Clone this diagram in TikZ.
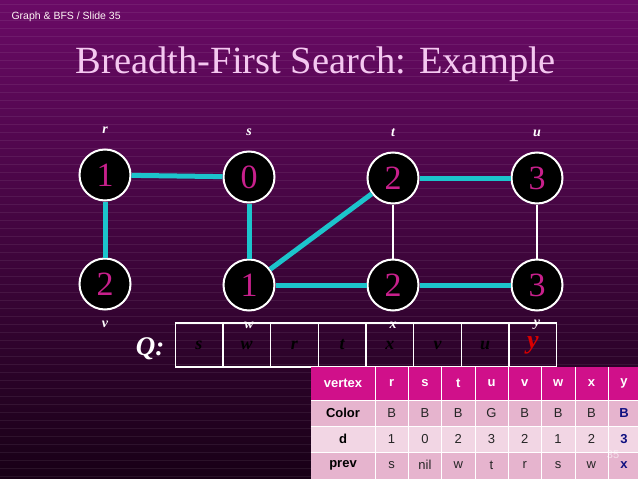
\documentclass[tikz,border=0pt]{standalone}
\usepackage{fontspec}
\setmainfont{Liberation Serif}
\setsansfont{Liberation Sans}
\usetikzlibrary{calc}
\definecolor{bgtop}{HTML}{6A0A66}
\definecolor{bgbot}{HTML}{180016}
\definecolor{edgecol}{HTML}{1CC4CC}
\definecolor{numcol}{HTML}{C8208C}
\definecolor{titlecol}{HTML}{F4C8F0}
\definecolor{headcol}{HTML}{D0108A}
\definecolor{rowa}{HTML}{E6B4CE}
\definecolor{rowb}{HTML}{F2D6E4}
\definecolor{ycol}{HTML}{101080}
\tikzset{
    vertex/.style={circle, draw=white, line width=2pt, fill=black, minimum size=51pt, inner sep=0pt,
        text=numcol, font=\fontsize{34}{34}\selectfont},
    tree/.style={edgecol, line width=5pt},
    plain/.style={white, line width=1.3pt},
    vlabel/.style={white, font=\itshape\bfseries\fontsize{14}{14}\selectfont},
    qcell/.style={draw=white, line width=1.3pt, minimum width=47.7pt, minimum height=44pt, inner sep=0pt,
        font=\itshape\bfseries\fontsize{18}{18}\selectfont, text=black},
    tcell/.style={font=\sffamily\fontsize{13}{13}\selectfont, text=black!85},
    thead/.style={font=\sffamily\bfseries\fontsize{13}{13}\selectfont}
}
\begin{document}
\begin{tikzpicture}[x=1pt,y=-1pt]
    \useasboundingbox (0,0) rectangle (638,479);
    \shade[top color=bgtop, bottom color=bgbot] (0,0) rectangle (638,479);
    \foreach \y in {4,12,...,476}
    {
        \draw[white, opacity=0.07, line width=0.6pt] (0,\y) -- (638,\y);
    }

    \node[anchor=west, text=white!85!pink, font=\sffamily\fontsize{10.5}{10.5}\selectfont] (hdr) at (8,17) {Graph \& BFS / Slide 35};
    \node[text=titlecol, font=\fontsize{38.5}{38.5}\selectfont] (title) at (316,64) {Breadth-First Search: Example};

    % vertices
    \node[vertex] (r) at (105,175) {1};
    \node[vertex] (s) at (249,177) {0};
    \node[vertex] (t) at (393,178) {2};
    \node[vertex] (u) at (537,178) {3};
    \node[vertex] (v) at (105,284) {2};
    \node[vertex] (w) at (249,285) {1};
    \node[vertex] (x) at (393,285) {2};
    \node[vertex] (y) at (537,285) {3};

    \foreach \n/\l in {r/r,s/s,t/t,u/u}
    {
        \node[vlabel] (lab\n) at ($(\n)+(0,-45)$) {\l};
    }
    \foreach \n/\l in {v/v,w/w,x/x,y/y}
    {
        \node[vlabel] (lab\n) at ($(\n)+(0,40)$) {\l};
    }

    % edges
    \draw[tree] (r) -- (s);
    \draw[tree] (r) -- (v);
    \draw[tree] (s) -- (w);
    \draw[tree] (w) -- (t);
    \draw[tree] (w) -- (x);
    \draw[tree] (t) -- (u);
    \draw[tree] (x) -- (y);
    \draw[plain] (t) -- (x);
    \draw[plain] (u) -- (y);

    % queue
    \node[text=white, font=\itshape\bfseries\fontsize{27}{27}\selectfont] (qlab) at (150,349) {Q:};
    \foreach \c [count=\i from 0] in {s,w,r,t,x,v,u}
    {
        \node[qcell] (q\i) at (199+47.7*\i,345) {\c};
    }
    \node[qcell, text=red!85!black, font=\itshape\bfseries\fontsize{26}{26}\selectfont] (q7) at (199+47.7*7,345) {y};

    % table
    \fill[headcol] (311,367) rectangle (638,400);
    \fill[rowa] (311,400) rectangle (638,426);
    \fill[rowb] (311,426) rectangle (638,452);
    \fill[rowa] (311,452) rectangle (638,479);
    \foreach \yy in {400,426,452}
    {
        \draw[white, thin] (311,\yy) -- (638,\yy);
    }
    \foreach \xx in {375,408.3,441.6,475,508.3,541.6,575,608.3}
    {
        \draw[white, thin] (\xx,367) -- (\xx,479);
    }
    \node[thead, text=white] (hv) at (343,383) {vertex};
    \node[thead] (hc) at (343,413) {Color};
    \node[thead] (hd) at (343,439) {d};
    \node[thead] (hp) at (343,465) {prev};
    \foreach \h/\c/\d/\p [count=\i from 0] in {r/B/1/s, s/B/0/nil, t/B/2/w, u/G/3/t, v/B/2/r, w/B/1/s, x/B/2/w}
    {
        \node[thead, text=white] (h\i) at (391.6+33.3*\i,383) {\h};
        \node[tcell] (c\i) at (391.6+33.3*\i,413) {\c};
        \node[tcell] (d\i) at (391.6+33.3*\i,439) {\d};
        \node[tcell] (p\i) at (391.6+33.3*\i,465) {\p};
    }
    \node[thead, text=white] (h7) at (624,383) {y};
    \node[thead, text=ycol] (c7) at (624,413) {B};
    \node[thead, text=ycol] (d7) at (624,439) {3};
    \node[thead, text=ycol] (p7) at (624,465) {x};
    \node[font=\sffamily\fontsize{11}{11}\selectfont, text=white, opacity=0.6] (pg) at (613,455) {35};
\end{tikzpicture}
\end{document}
